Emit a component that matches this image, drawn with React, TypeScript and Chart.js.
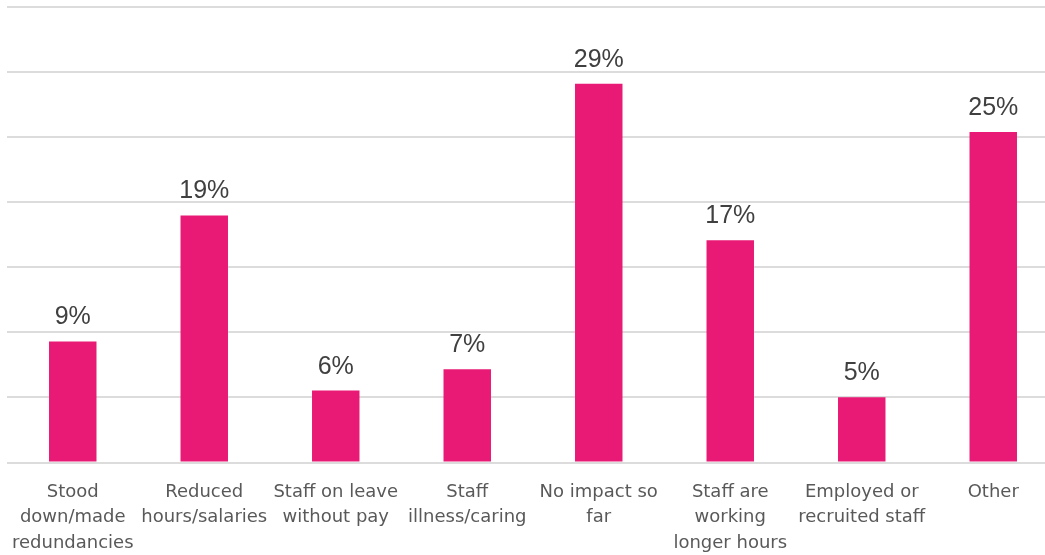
import React, { useEffect, useRef } from "react";
import { Chart, registerables } from "chart.js";

Chart.register(...registerables);

const categories: string[][] = [
  ["Stood", "down/made", "redundancies"],
  ["Reduced", "hours/salaries"],
  ["Staff on leave", "without pay"],
  ["Staff", "illness/caring"],
  ["No impact so", "far"],
  ["Staff are", "working", "longer hours"],
  ["Employed or", "recruited staff"],
  ["Other"],
];

const impactValues: number[] = [9.3, 18.98, 5.53, 7.17, 29.1, 17.07, 5.02, 25.4];

const yTickMin = 0;
const yTickMax = 35;
const yTickStep = 5;

const valueLabelPlugin = {
  id: "valueLabels",
  afterDatasetsDraw(chart: any) {
    const ctx = chart.ctx;
    const meta = chart.getDatasetMeta(0);
    ctx.save();
    ctx.font = "25px 'Liberation Sans', Arial, sans-serif";
    ctx.fillStyle = "#404040";
    ctx.textAlign = "center";
    ctx.textBaseline = "alphabetic";
    meta.data.forEach((bar: any, i: number) => {
      const v = chart.data.datasets[0].data[i] as number;
      ctx.fillText(Math.round(v) + "%", bar.x, bar.y - 17);
    });
    ctx.restore();
  },
};

export default function App() {
  const ref = useRef<HTMLCanvasElement | null>(null);
  useEffect(() => {
    if (!ref.current) return;
    const chart = new Chart(ref.current, {
      type: "bar",
      data: {
        labels: categories,
        datasets: [
          {
            data: impactValues,
            backgroundColor: "#E91A75",
            borderWidth: 0,
            barPercentage: 0.361,
            categoryPercentage: 1,
          },
        ],
      },
      options: {
        animation: false,
        responsive: false,
        maintainAspectRatio: false,
        layout: { padding: { top: 7, left: 7, right: 7, bottom: 0 } },
        plugins: {
          legend: { display: false },
          tooltip: { enabled: false },
        },
        scales: {
          x: {
            grid: { display: false, drawTicks: false },
            border: { display: false },
            ticks: {
              padding: 17,
              color: "#595959",
              maxRotation: 0,
              autoSkip: false,
              font: { family: "'DejaVu Sans', sans-serif", size: 18, lineHeight: 25.5 / 18 },
            },
            afterFit: (s: any) => {
              s.height = 92.5;
              s.paddingLeft = 0;
              s.paddingRight = 0;
            },
          },
          y: {
            min: yTickMin,
            max: yTickMax,
            ticks: { stepSize: yTickStep, display: false },
            grid: { color: "#dcdcdc", lineWidth: 2, drawTicks: false },
            border: { display: false },
            afterFit: (s: any) => {
              s.width = 0;
            },
          },
        },
      },
      plugins: [valueLabelPlugin],
    });
    return () => chart.destroy();
  }, []);
  return (
    <div style={{ position: "fixed", top: 0, left: 0, width: 1045, height: 555, overflow: "hidden", background: "#fff" }}>
      <canvas ref={ref} width={1066} height={555} style={{ display: "block" }} />
    </div>
  );
}
